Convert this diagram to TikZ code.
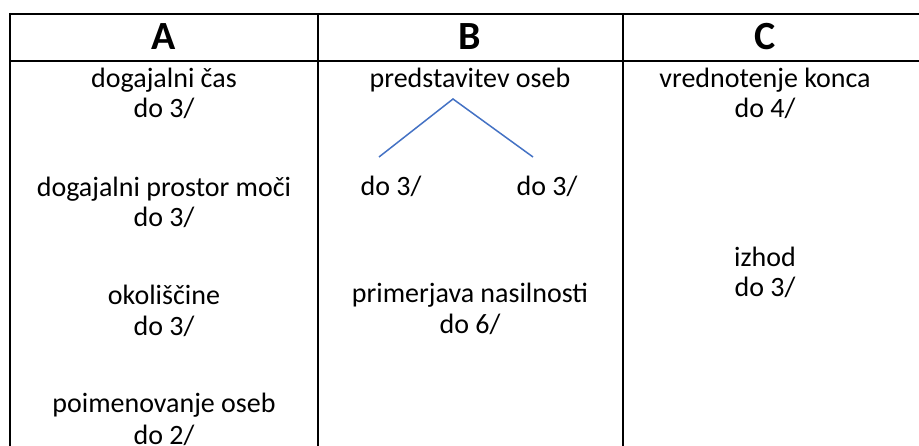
\documentclass[tikz,border=0pt]{standalone}
\usepackage{fontspec}
\setmainfont{Carlito}
\usepackage{xcolor}
\usepackage{tikz}
\definecolor{treeblue}{RGB}{68,114,196}

\tikzset{
  cell/.style={anchor=base,inner sep=0pt,font=\fontsize{28}{32}\selectfont},
  head/.style={anchor=base,inner sep=0pt,font=\fontsize{40}{44}\selectfont\bfseries},
  rule/.style={line width=2pt,black},
  branch/.style={line width=1.5pt,treeblue}
}

\begin{document}
\begin{tikzpicture}[x=1pt,y=-1pt]
\useasboundingbox (0,0) rectangle (919,446);

% Table
\draw[rule] (10,14) -- (919,14);
\draw[rule] (10,61) -- (919,61);
\foreach \x in {10,318,623}
  \draw[rule] (\x,13) -- (\x,446);

% Header
\node[head] (hA) at (164,50) {A};
\node[head] (hB) at (470,50) {B};
\node[head] (hC) at (765,50) {C};

% Column A
\node[cell] (cas) at (164,88) {dogajalni čas};
\node[cell] (casN) at (164,118) {do 3/};
\node[cell] (prostor) at (164,197) {dogajalni prostor moči};
\node[cell] (prostorN) at (164,227) {do 3/};
\node[cell] (okol) at (164,305) {okoliščine};
\node[cell] (okolN) at (164,336) {do 3/};
\node[cell] (poim) at (164,413) {poimenovanje oseb};
\node[cell] (poimN) at (164,444) {do 2/};

% Column B
\node[cell] (pred) at (470,88) {predstavitev oseb};
\node[cell] (predL) at (391,196) {do 3/};
\node[cell] (predR) at (547,196) {do 3/};
\node[cell] (prim) at (470,303) {primerjava nasilnosti};
\node[cell] (primN) at (470,334) {do 6/};

% Tree
\coordinate (apex) at (453,99);
\coordinate (legL) at (379,157);
\coordinate (legR) at (533,157);
\draw[branch] (legL) -- (apex) -- (legR);

% Column C
\node[cell] (vred) at (765,88) {vrednotenje konca};
\node[cell] (vredN) at (765,118) {do 4/};
\node[cell] (izhod) at (765,267) {izhod};
\node[cell] (izhodN) at (765,297) {do 3/};
\end{tikzpicture}
\end{document}
